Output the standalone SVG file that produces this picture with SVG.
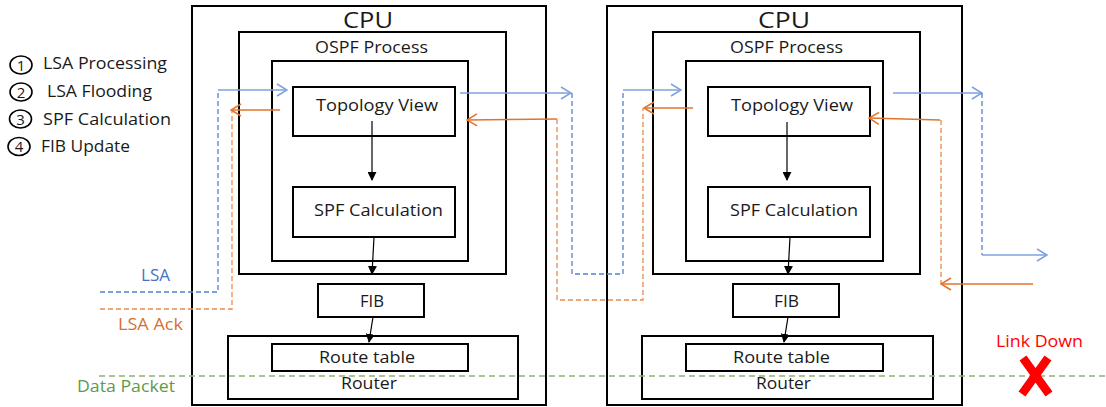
<svg xmlns="http://www.w3.org/2000/svg" width="1106" height="407" viewBox="0 0 1106 407">
  <style>
    .box { fill: none; stroke: #000; stroke-width: 2; }
    .t { font-family: "Open Sans", "Liberation Sans", sans-serif; font-size: 15.5px; fill: #1a1a1a; }
    .cpu { font-size: 22px; }
    .num { font-size: 15px; }
    .lsa-s { fill: none; stroke: #7FA2DE; stroke-width: 1.7; }
    .lsa-d { fill: none; stroke: #4F81D6; stroke-width: 1.3; stroke-dasharray: 5 3; }
    .ack-s { fill: none; stroke: #E2732D; stroke-width: 1.5; }
    .ack-d { fill: none; stroke: #E98A4D; stroke-width: 1.3; stroke-dasharray: 5 3; }
    .flow { fill: none; stroke: #000; stroke-width: 1.2; }
    .data { fill: none; stroke: #8DB46F; stroke-width: 1.3; stroke-dasharray: 6 4; }
    .legend-c { fill: none; stroke: #000; stroke-width: 1.6; }
  </style>
  <defs>
    <marker id="open-blue" viewBox="0 0 12 14" refX="11" refY="7" markerWidth="12" markerHeight="14" markerUnits="userSpaceOnUse" orient="auto">
      <path d="M1,1 L11,7 L1,13" fill="none" stroke="#7FA2DE" stroke-width="1.6"/>
    </marker>
    <marker id="open-orange" viewBox="0 0 12 14" refX="11" refY="7" markerWidth="12" markerHeight="14" markerUnits="userSpaceOnUse" orient="auto">
      <path d="M1,1 L11,7 L1,13" fill="none" stroke="#E2732D" stroke-width="1.5"/>
    </marker>
    <marker id="solid-black" viewBox="0 0 10 10" refX="9" refY="5" markerWidth="9" markerHeight="9" markerUnits="userSpaceOnUse" orient="auto">
      <path d="M0,0 L10,5 L0,10 Z" fill="#000"/>
    </marker>
  </defs>

  <rect width="1106" height="407" fill="#fff"/>

  <!-- legend -->
  <g id="legend">
    <ellipse class="legend-c" cx="21" cy="65" rx="11" ry="9"/>
    <text class="t num" x="21" y="70.5" text-anchor="middle">1</text>
    <text class="t" x="43" y="69" textLength="124" lengthAdjust="spacingAndGlyphs">LSA Processing</text>
    <ellipse class="legend-c" cx="21" cy="92" rx="11" ry="9"/>
    <text class="t num" x="21" y="97.5" text-anchor="middle">2</text>
    <text class="t" x="47" y="97" textLength="105" lengthAdjust="spacingAndGlyphs">LSA Flooding</text>
    <ellipse class="legend-c" cx="20.5" cy="119" rx="11" ry="9"/>
    <text class="t num" x="20.5" y="124.5" text-anchor="middle">3</text>
    <text class="t" x="43" y="125" textLength="128" lengthAdjust="spacingAndGlyphs">SPF Calculation</text>
    <ellipse class="legend-c" cx="19" cy="146.5" rx="11" ry="9"/>
    <text class="t num" x="19" y="152" text-anchor="middle">4</text>
    <text class="t" x="41" y="152" textLength="89" lengthAdjust="spacingAndGlyphs">FIB Update</text>
  </g>

  <!-- traffic labels -->
  <g id="labels">
    <text class="t" x="141" y="281" style="fill:#4472C4" textLength="29" lengthAdjust="spacingAndGlyphs">LSA</text>
    <text class="t" x="118" y="330" style="fill:#D9702F" textLength="65" lengthAdjust="spacingAndGlyphs">LSA Ack</text>
    <text class="t" x="77" y="392" style="fill:#5F9A48" textLength="98" lengthAdjust="spacingAndGlyphs">Data Packet</text>
    <text class="t" x="996" y="347" style="fill:#FF0000" textLength="87" lengthAdjust="spacingAndGlyphs">Link Down</text>
  </g>

  <!-- router A -->
  <g id="router-a">
    <rect class="box" x="192" y="6" width="354" height="399"/>
    <text class="t cpu" x="343" y="28" textLength="50" lengthAdjust="spacingAndGlyphs">CPU</text>
    <rect class="box" x="239" y="32" width="267" height="242"/>
    <text class="t" x="315" y="53" textLength="113" lengthAdjust="spacingAndGlyphs">OSPF Process</text>
    <rect class="box" x="272" y="61" width="196" height="200"/>
    <rect class="box" x="293" y="87" width="162" height="49"/>
    <text class="t" x="316" y="111" textLength="122" lengthAdjust="spacingAndGlyphs">Topology View</text>
    <rect class="box" x="293" y="187" width="162" height="50"/>
    <text class="t" x="314" y="216" textLength="129" lengthAdjust="spacingAndGlyphs">SPF Calculation</text>
    <rect class="box" x="318" y="284" width="106" height="33"/>
    <text class="t" x="360" y="307" textLength="24" lengthAdjust="spacingAndGlyphs">FIB</text>
    <rect class="box" x="228" y="336" width="290" height="63"/>
    <rect class="box" x="272" y="344" width="196" height="27"/>
    <text class="t" x="319" y="363" textLength="96" lengthAdjust="spacingAndGlyphs">Route table</text>
    <text class="t" x="341" y="389" textLength="56" lengthAdjust="spacingAndGlyphs">Router</text>
  </g>

  <!-- router B -->
  <g id="router-b">
    <rect class="box" x="607" y="6" width="355" height="399"/>
    <text class="t cpu" x="758" y="28" textLength="52" lengthAdjust="spacingAndGlyphs">CPU</text>
    <rect class="box" x="653" y="32" width="267" height="242"/>
    <text class="t" x="730" y="53" textLength="113" lengthAdjust="spacingAndGlyphs">OSPF Process</text>
    <rect class="box" x="686" y="61" width="197" height="200"/>
    <rect class="box" x="708" y="87" width="162" height="49"/>
    <text class="t" x="731" y="111" textLength="122" lengthAdjust="spacingAndGlyphs">Topology View</text>
    <rect class="box" x="708" y="187" width="162" height="50"/>
    <text class="t" x="730" y="216" textLength="128" lengthAdjust="spacingAndGlyphs">SPF Calculation</text>
    <rect class="box" x="733" y="284" width="106" height="33"/>
    <text class="t" x="774" y="307" textLength="25" lengthAdjust="spacingAndGlyphs">FIB</text>
    <rect class="box" x="642" y="336" width="291" height="63"/>
    <rect class="box" x="686" y="344" width="197" height="27"/>
    <text class="t" x="733" y="363" textLength="97" lengthAdjust="spacingAndGlyphs">Route table</text>
    <text class="t" x="756" y="389" textLength="55" lengthAdjust="spacingAndGlyphs">Router</text>
  </g>

  <!-- connectors -->
  <g id="connectors">
    <!-- internal processing flow -->
    <line class="flow" x1="372" y1="121" x2="372" y2="180" marker-end="url(#solid-black)"/>
    <line class="flow" x1="374" y1="237" x2="372" y2="274" marker-end="url(#solid-black)"/>
    <line class="flow" x1="373" y1="317" x2="369" y2="342" marker-end="url(#solid-black)"/>
    <line class="flow" x1="787" y1="122" x2="787" y2="180" marker-end="url(#solid-black)"/>
    <line class="flow" x1="790" y1="237" x2="788" y2="274" marker-end="url(#solid-black)"/>
    <line class="flow" x1="788" y1="317" x2="784" y2="342" marker-end="url(#solid-black)"/>

    <!-- LSA flooding -->
    <path class="lsa-d" d="M100,292 H218 V90"/>
    <line class="lsa-s" x1="218" y1="90" x2="287" y2="90" marker-end="url(#open-blue)"/>
    <line class="lsa-s" x1="460" y1="93" x2="571" y2="93" marker-end="url(#open-blue)"/>
    <path class="lsa-d" d="M572,93 V274 H623 V90"/>
    <line class="lsa-s" x1="623" y1="90" x2="681" y2="90" marker-end="url(#open-blue)"/>
    <line class="lsa-s" x1="893" y1="93" x2="982" y2="93" marker-end="url(#open-blue)"/>
    <path class="lsa-d" d="M982,93 V255"/>
    <line class="lsa-s" x1="982" y1="255" x2="1047" y2="255" marker-end="url(#open-blue)"/>

    <!-- LSA acknowledgements -->
    <path class="ack-d" d="M100,309 H232 V110"/>
    <line class="ack-s" x1="280" y1="110" x2="231" y2="110" marker-end="url(#open-orange)"/>
    <line class="ack-s" x1="557" y1="119" x2="467" y2="120" marker-end="url(#open-orange)"/>
    <path class="ack-d" d="M557,119 V300 H643 V108"/>
    <line class="ack-s" x1="693" y1="108" x2="644" y2="108" marker-end="url(#open-orange)"/>
    <line class="ack-s" x1="940" y1="120" x2="869" y2="118" marker-end="url(#open-orange)"/>
    <path class="ack-d" d="M941,120 V284"/>
    <line class="ack-s" x1="1033" y1="284" x2="941" y2="284" marker-end="url(#open-orange)"/>

    <!-- data path -->
    <line class="data" x1="99" y1="376" x2="1106" y2="376"/>
  </g>

  <!-- broken link mark -->
  <g id="link-down">
    <path d="M1023,358 L1049,394 M1048,358 L1022,394" stroke="#FF0000" stroke-width="8.5" fill="none"/>
  </g>
</svg>
